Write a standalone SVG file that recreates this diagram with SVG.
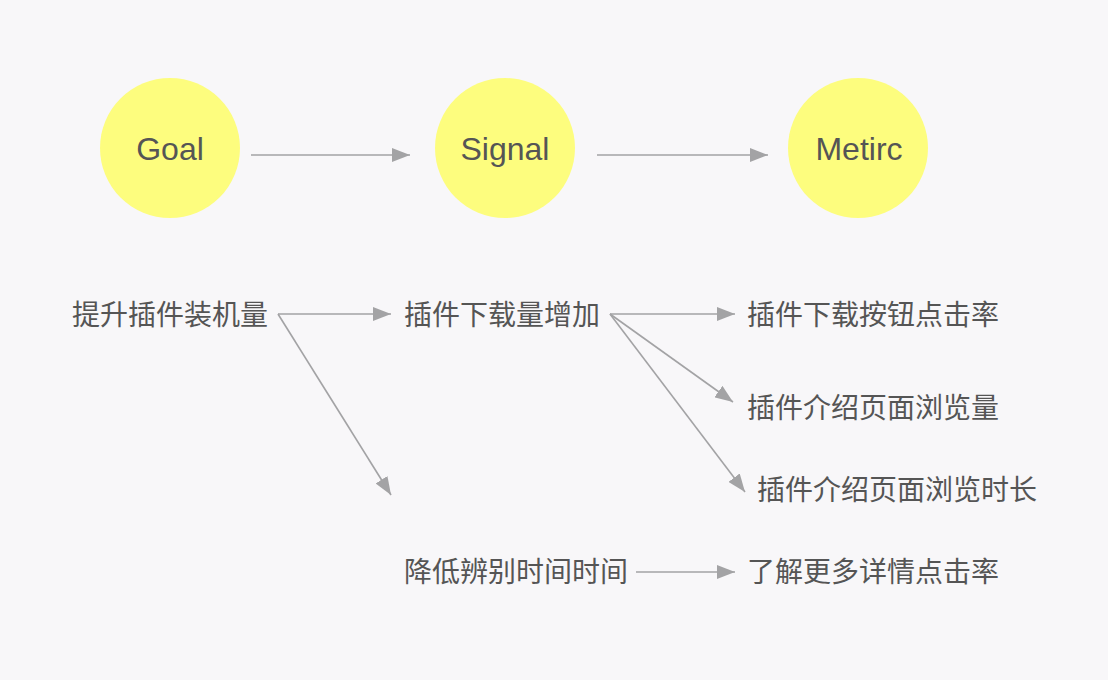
<svg xmlns="http://www.w3.org/2000/svg" width="1108" height="680" viewBox="0 0 1108 680">
<defs>
<style>
.bg{fill:#f8f7f9}
.c{fill:#fdfd7e}
.t{font-family:"Liberation Sans",Arial,sans-serif;font-size:32px;fill:#555555}
.z{font-family:"Noto Sans CJK SC","Noto Sans",sans-serif;font-size:28px;fill:#555555}
.l{stroke:#a3a3a5;stroke-width:1.6;fill:none;marker-end:url(#ah)}
</style>
<marker id="ah" markerWidth="18" markerHeight="14" refX="18" refY="7" orient="auto" markerUnits="userSpaceOnUse">
<path d="M0,0 L18,7 L0,14 Z" fill="#a3a3a5"/>
</marker>
</defs>
<rect class="bg" x="0" y="0" width="1108" height="680"/>
<g id="goal"><circle class="c" cx="170" cy="148" r="70"/><text class="t" x="170" y="160" text-anchor="middle">Goal</text></g>
<g id="signal"><circle class="c" cx="505" cy="148" r="70"/><text class="t" x="505" y="160" text-anchor="middle">Signal</text></g>
<g id="metirc"><circle class="c" cx="858" cy="148" r="70"/><text class="t" x="859" y="160" text-anchor="middle">Metirc</text></g>
<g id="g1"><text class="z" x="72" y="325">提升插件装机量</text></g>
<g id="s1"><text class="z" x="404" y="325">插件下载量增加</text></g>
<g id="s2"><text class="z" x="404" y="582">降低辨别时间时间</text></g>
<g id="m1"><text class="z" x="747" y="325">插件下载按钮点击率</text></g>
<g id="m2"><text class="z" x="747" y="418">插件介绍页面浏览量</text></g>
<g id="m3"><text class="z" x="757" y="500">插件介绍页面浏览时长</text></g>
<g id="m4"><text class="z" x="747" y="582">了解更多详情点击率</text></g>
<g id="connectors">
<line class="l" x1="251" y1="155" x2="410" y2="155"/>
<line class="l" x1="597" y1="155" x2="768" y2="155"/>
<line class="l" x1="278" y1="314" x2="391" y2="314"/>
<line class="l" x1="278" y1="314" x2="391" y2="495"/>
<line class="l" x1="610" y1="314" x2="735" y2="314"/>
<line class="l" x1="610" y1="314" x2="733" y2="402"/>
<line class="l" x1="610" y1="314" x2="745" y2="492"/>
<line class="l" x1="636" y1="572" x2="735" y2="572"/>
</g>
</svg>
